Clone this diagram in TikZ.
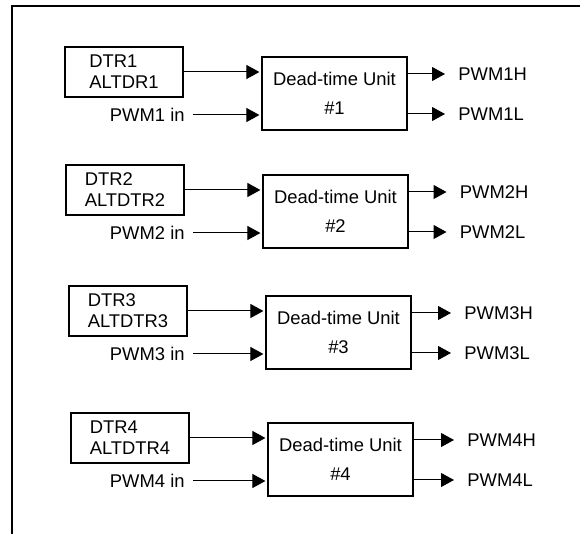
\documentclass[tikz,border=0pt]{standalone}
\usepackage{fontspec}
\setmainfont{Liberation Sans}
\usetikzlibrary{arrows.meta}

\begin{document}
\begin{tikzpicture}[x=0.5pt,y=-0.5pt,
  every node/.style={font=\fontsize{9.2}{10.5}\selectfont},
  regbox/.style={draw,line width=0.6pt,minimum width=59pt,minimum height=25pt,inner ysep=0pt,align=left},
  unitbox/.style={draw,line width=0.6pt,minimum width=72.5pt,minimum height=36.5pt,align=center,font=\fontsize{9.2}{14.5}\selectfont},
  sig/.style={-{Triangle[length=6.5pt,width=7pt]},line width=0.5pt}]
  \useasboundingbox (0,0) rectangle (580,534);
  \draw[line width=1.2pt] (12,534) -- (12,6) -- (580,6);
  % one dead-time unit per pwm channel
  \foreach \i/\dx/\dy/\alt in {1/0/0/ALTDR1,2/1/118/ALTDTR2,3/4/239/ALTDTR3,4/6/366/ALTDTR4}{
    \node[regbox] (dtr\i) at (124+\dx,72+\dy) {DTR\i\\\alt};
    \node[unitbox] (dtu\i) at (334.5+\dx,93.5+\dy) {Dead-time Unit\\\#\i};
    \node[anchor=east,inner sep=0pt] (in\i) at (185,115+\dy) {PWM\i{} in};
    \node[anchor=west,inner sep=0pt] (hi\i) at (458+1.5*\dx,74+\dy) {PWM\i H};
    \node[anchor=west,inner sep=0pt] (lo\i) at (458+1.5*\dx,114+\dy) {PWM\i L};
    \draw[sig,shorten >=1pt] (dtr\i.east) -- (dtr\i.east -| dtu\i.west);
    \draw[sig,shorten <=4pt,shorten >=1pt] (in\i.east) -- (in\i.east -| dtu\i.west);
    \draw[sig,shorten >=6.5pt] (hi\i.west -| dtu\i.east) -- (hi\i.west);
    \draw[sig,shorten >=6.5pt] (lo\i.west -| dtu\i.east) -- (lo\i.west);
  }
\end{tikzpicture}
\end{document}
